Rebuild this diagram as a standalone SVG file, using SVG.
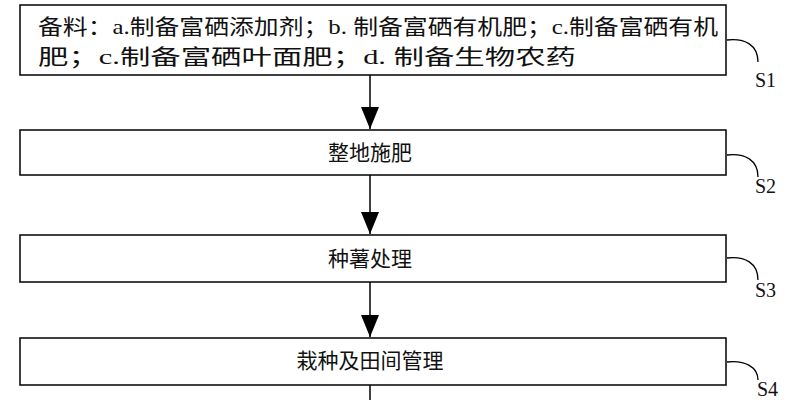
<svg xmlns="http://www.w3.org/2000/svg" width="794" height="400" viewBox="0 0 794 400">
<style>
.b{fill:#fff;stroke:#000;stroke-width:1.5}
.t{font-family:"Liberation Serif","Noto Sans CJK SC",serif;font-size:21px;fill:#111}
.s{font-family:"Liberation Serif",serif;font-size:20px;fill:#111}
.c{fill:none;stroke:#000;stroke-width:1.3}
.l{stroke:#000;stroke-width:1.5}
</style>
<defs><marker id="a" markerWidth="22" markerHeight="18" refX="22" refY="9" orient="auto" markerUnits="userSpaceOnUse" viewBox="0 0 22 18"><path d="M0,0L22,9L0,18z"/></marker></defs>
<rect width="794" height="400" fill="#fff"/>
<g id="connectors">
<line class="l" x1="370" y1="75" x2="370" y2="129" marker-end="url(#a)"/>
<line class="l" x1="370" y1="175" x2="370" y2="234" marker-end="url(#a)"/>
<line class="l" x1="370" y1="282" x2="370" y2="337" marker-end="url(#a)"/>
<line class="l" x1="370" y1="385" x2="370" y2="400"/>
<path class="c" d="M727,40 C745,38 758,45 758,62"/>
<path class="c" d="M727,155 C745,153 758,160 758,177"/>
<path class="c" d="M727,258 C745,256 758,263 758,280"/>
<path class="c" d="M727,362 C745,360 758,367 758,380"/>
</g>
<g id="S1"><rect class="b" x="20" y="5" width="706" height="70"/>
<text class="t" x="38" y="34" textLength="680" lengthAdjust="spacingAndGlyphs">备料：a.制备富硒添加剂；b. 制备富硒有机肥；c.制备富硒有机</text>
<text class="t" x="38" y="64" textLength="538" lengthAdjust="spacingAndGlyphs">肥；c.制备富硒叶面肥；d. 制备生物农药</text>
<text class="s" x="755" y="87">S1</text></g>
<g id="S2"><rect class="b" x="20" y="130" width="706" height="45"/>
<text class="t" x="370" y="160" text-anchor="middle">整地施肥</text>
<text class="s" x="755" y="193">S2</text></g>
<g id="S3"><rect class="b" x="20" y="235" width="706" height="47"/>
<text class="t" x="370" y="266" text-anchor="middle">种薯处理</text>
<text class="s" x="755" y="297">S3</text></g>
<g id="S4"><rect class="b" x="20" y="338" width="706" height="47"/>
<text class="t" x="370" y="368" text-anchor="middle">栽种及田间管理</text>
<text class="s" x="757" y="396">S4</text></g>
</svg>
